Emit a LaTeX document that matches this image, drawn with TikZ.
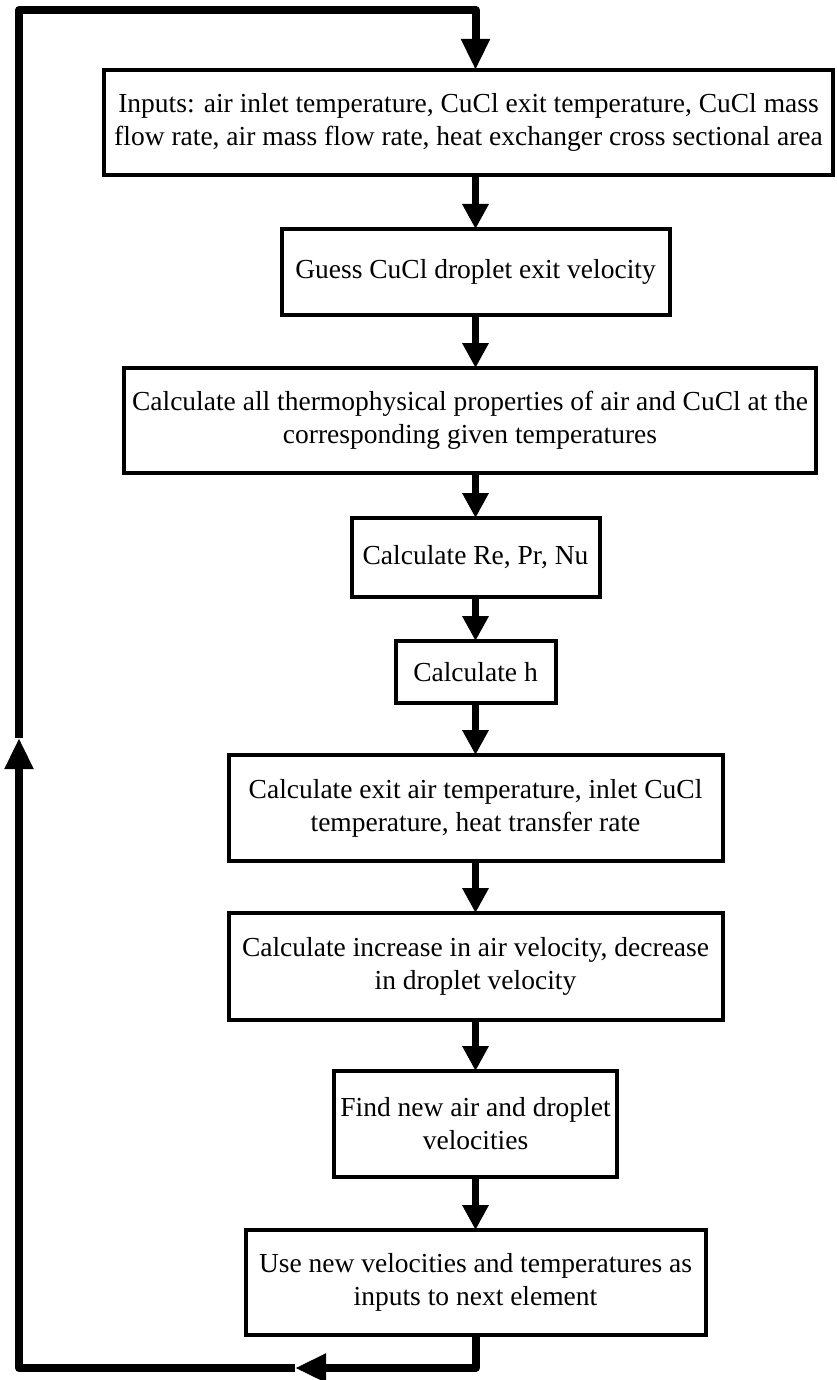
\documentclass[tikz,border=0pt]{standalone}
\usepackage{fontspec}
\setmainfont{Liberation Serif}
\usetikzlibrary{positioning,arrows.meta}

\begin{document}
\begin{tikzpicture}[box/.style={draw, line width=4pt, align=center, inner sep=4pt, outer sep=0pt},
              flow/.style={line width=7.5pt, -{Triangle[width=25pt,length=25pt]}},
              loopline/.style={line width=8pt, line join=round},
              looparrow/.style={loopline, -{Triangle[width=27pt,length=31pt]}}]
            \tikzstyle{every node}=[font=\fontsize{27.5pt}{33pt}\selectfont]
            \useasboundingbox (0pt,0pt) rectangle (837pt,-1380pt);

            % main chain
            \node[box, minimum width=729pt, minimum height=105pt] (inputs) at (468.5pt,-122.5pt)
              {Inputs: air inlet temperature, CuCl exit temperature, CuCl mass\\
               flow rate, air mass flow rate, heat exchanger cross sectional area};
            \node[box, minimum width=388pt, minimum height=86pt, below=54pt of inputs, xshift=7pt] (guess)
              {Guess CuCl droplet exit velocity};
            \node[box, minimum width=692pt, minimum height=105pt, below=53pt of guess, xshift=-5.5pt] (props)
              {Calculate all thermophysical properties of air and CuCl at the\\
               corresponding given temperatures};
            \node[box, minimum width=248pt, minimum height=79pt, below=45pt of props, xshift=5.5pt] (dimless)
              {Calculate Re, Pr, Nu};
            \node[box, minimum width=160pt, minimum height=62pt, below=44pt of dimless] (coeff)
              {Calculate h};
            \node[box, minimum width=494pt, minimum height=106pt, below=52pt of coeff] (exit)
              {Calculate exit air temperature, inlet CuCl\\
               temperature, heat transfer rate};
            \node[box, minimum width=494pt, minimum height=107pt, below=52pt of exit] (incr)
              {Calculate increase in air velocity, decrease\\
               in droplet velocity};
            \node[box, minimum width=283pt, minimum height=106pt, below=51pt of incr] (newvel)
              {Find new air and droplet\\
               velocities};
            \node[box, minimum width=460pt, minimum height=105pt, below=53pt of newvel] (next)
              {Use new velocities and temperatures as\\
               inputs to next element};

            \draw[flow] (inputs.south -| guess) -- (guess);
            \draw[flow] (guess) -- (props.north -| guess);
            \draw[flow] (props.south -| dimless) -- (dimless);
            \draw[flow] (dimless) -- (coeff);
            \draw[flow] (coeff) -- (exit);
            \draw[flow] (exit) -- (incr);
            \draw[flow] (incr) -- (newvel);
            \draw[flow] (newvel) -- (next);

            % loop back to the inputs
            \coordinate (bl) at (19pt,-1368pt);
            \coordinate (tl) at (19pt,-10pt);
            \coordinate (bottomtip) at (295pt,-1368pt);
            \coordinate (lefttip) at (19pt,-738pt);
            \coordinate (topturn) at (475.5pt,-10pt);
            \draw[looparrow] (next.south) -- (next.south |- bl) -- (bottomtip);
            \draw[looparrow] (bottomtip) -- (bl) -- (lefttip);
            \draw[looparrow] (lefttip) -- (tl) -- (topturn) -- (topturn |- inputs.north);
          \end{tikzpicture}
\end{document}
